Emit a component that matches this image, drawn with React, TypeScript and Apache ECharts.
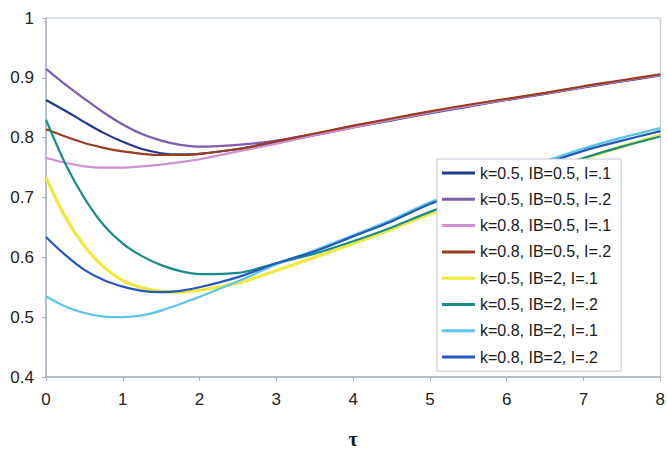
import React, { useEffect, useRef } from "react";
import * as echarts from "echarts";

const tau = [0, 0.25, 0.5, 0.75, 1, 1.25, 1.5, 1.75, 2, 2.5, 3, 3.5, 4, 4.5, 5, 5.5, 6, 6.5, 7, 7.5, 8];

const seriesNames = [
  "k=0.5, IB=0.5, I=.1",
  "k=0.5, IB=0.5, I=.2",
  "k=0.8, IB=0.5, I=.1",
  "k=0.8, IB=0.5, I=.2",
  "k=0.5, IB=2, I=.1",
  "k=0.5, IB=2, I=.2",
  "k=0.8, IB=2, I=.1",
  "k=0.8, IB=2, I=.2",
];

const s1 = [0.863, 0.845, 0.826, 0.808, 0.793, 0.781, 0.774, 0.772, 0.773, 0.781, 0.792, 0.804, 0.817, 0.829, 0.841, 0.852, 0.863, 0.873, 0.884, 0.894, 0.904];
const s2 = [0.915, 0.889, 0.865, 0.842, 0.822, 0.806, 0.795, 0.788, 0.785, 0.788, 0.795, 0.806, 0.818, 0.83, 0.842, 0.853, 0.864, 0.874, 0.885, 0.895, 0.905];
const s3 = [0.766, 0.758, 0.752, 0.75, 0.75, 0.752, 0.755, 0.759, 0.764, 0.777, 0.79, 0.804, 0.817, 0.83, 0.842, 0.853, 0.864, 0.874, 0.885, 0.895, 0.905];
const s4 = [0.814, 0.802, 0.791, 0.783, 0.777, 0.773, 0.771, 0.771, 0.773, 0.781, 0.794, 0.807, 0.82, 0.832, 0.844, 0.855, 0.865, 0.875, 0.886, 0.896, 0.906];
const s5 = [0.733, 0.668, 0.619, 0.584, 0.561, 0.549, 0.543, 0.542, 0.545, 0.557, 0.578, 0.6, 0.623, 0.647, 0.673, 0.698, 0.721, 0.743, 0.765, 0.785, 0.804];
const s6 = [0.83, 0.757, 0.699, 0.654, 0.623, 0.602, 0.587, 0.577, 0.572, 0.574, 0.59, 0.606, 0.627, 0.65, 0.676, 0.7, 0.723, 0.745, 0.766, 0.785, 0.802];
const s7 = [0.535, 0.518, 0.507, 0.501, 0.5, 0.503, 0.511, 0.522, 0.534, 0.56, 0.588, 0.612, 0.637, 0.663, 0.692, 0.716, 0.739, 0.761, 0.782, 0.8, 0.816];
const s8 = [0.634, 0.604, 0.579, 0.562, 0.551, 0.544, 0.542, 0.544, 0.55, 0.567, 0.59, 0.61, 0.635, 0.66, 0.689, 0.713, 0.735, 0.757, 0.778, 0.795, 0.811];

const allValues = [s1, s2, s3, s4, s5, s6, s7, s8];
const colors = ["#1f3a8a", "#7d5cab", "#cf8fd3", "#9a3b22", "#f0e83a", "#178c8c", "#5cc4e8", "#2458bb"];
const widths = [2.2, 2.2, 2.2, 2.2, 3.2, 2.2, 2.2, 2.2];

const xTicks = [0, 1, 2, 3, 4, 5, 6, 7, 8];

export default function App() {
  const ref = useRef<HTMLDivElement>(null);
  useEffect(() => {
    if (!ref.current) return;
    const chart = echarts.init(ref.current, undefined, { renderer: "svg" });
    const font = "'Liberation Sans', Arial, sans-serif";
    chart.setOption({
      animation: false,
      backgroundColor: "#ffffff",
      grid: {
        left: 46,
        right: 4,
        top: 18,
        bottom: 65,
        show: true,
        borderColor: "#b4c3d2",
        borderWidth: 1,
        backgroundColor: "transparent",
      },
      legend: {
        show: true,
        orient: "vertical",
        left: 437,
        top: 159,
        width: 200,
        padding: [5, 10, 5, 5],
        borderColor: "#bcc8d4",
        borderWidth: 1,
        backgroundColor: "#ffffff",
        icon: "rect",
        itemWidth: 33,
        itemHeight: 3,
        itemGap: 8.3,
        itemTextGap: 3,
        selectedMode: false,
        textStyle: { fontFamily: font, fontSize: 16, lineHeight: 18, color: "#1a1a1a" },
        data: seriesNames,
      },
      xAxis: {
        type: "value",
        min: 0,
        max: 8,
        interval: 1,
        name: "τ",
        nameLocation: "middle",
        nameGap: 52,
        nameTextStyle: { fontFamily: "'Liberation Serif', 'Times New Roman', serif", fontSize: 20, fontWeight: "bold", color: "#1a1a1a" },
        axisLine: { show: true, lineStyle: { color: "#a8b4c0", width: 1.5 } },
        axisTick: { show: true, inside: false, length: 4, lineStyle: { color: "#a8b4c0" } },
        axisLabel: {
          fontFamily: font,
          fontSize: 17,
          color: "#222222",
          margin: 14,
          customValues: xTicks,
        },
        splitLine: { show: false },
      },
      yAxis: {
        type: "value",
        min: 0.4,
        max: 1,
        interval: 0.1,
        axisLine: { show: true, lineStyle: { color: "#a8b4c0", width: 1.5 } },
        axisTick: { show: true, inside: false, length: 4, lineStyle: { color: "#a8b4c0" } },
        axisLabel: { fontFamily: font, fontSize: 17, color: "#222222", margin: 12 },
        splitLine: { show: false },
      },
      series: allValues.map((vals, i) => ({
        name: seriesNames[i],
        type: "line",
        smooth: 0.3,
        showSymbol: false,
        symbol: "none",
        color: colors[i],
        lineStyle: { color: colors[i], width: widths[i] },
        itemStyle: { color: colors[i] },
        data: vals.map((v, j) => [tau[j], v]),
        z: i === 4 ? 1 : 2,
      })),
    });
    return () => chart.dispose();
  }, []);
  return <div ref={ref} style={{ width: 668, height: 454, position: "absolute", left: 0, top: 0 }} />;
}
